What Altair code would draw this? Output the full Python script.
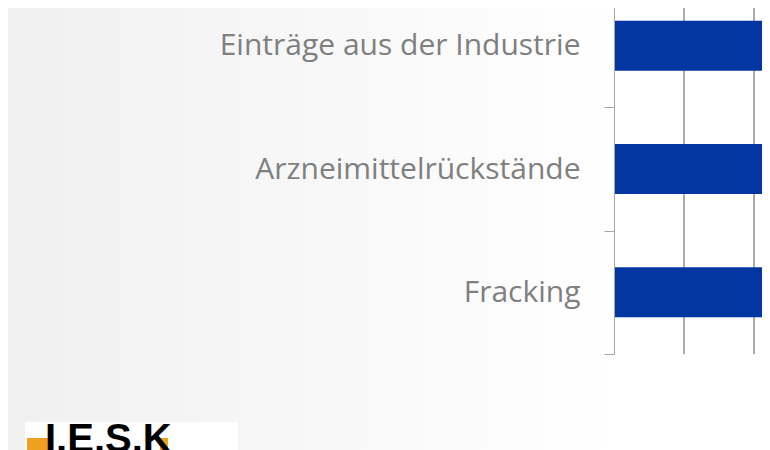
import altair as alt
import pandas as pd

categories = ["Einträge aus der Industrie", "Arzneimittelrückstände", "Fracking"]
values = [38, 34, 30]
grid_values = [10, 20]

df = pd.DataFrame({"cat": categories, "val": values})
grid_df = pd.DataFrame({"g": grid_values})
one = pd.DataFrame({"a": [0]})

xscale = alt.Scale(domain=[0, 148 / 7.0], nice=False, zero=False, clamp=True)
yscale = alt.Scale(range=[-24, 346], paddingInner=0, paddingOuter=0)

bg = alt.Chart(one).mark_rect(
    fill=alt.Gradient(
        gradient="linear",
        stops=[alt.GradientStop(offset=0, color="#f0f0f0"),
               alt.GradientStop(offset=0.8, color="#ffffff"),
               alt.GradientStop(offset=1, color="#ffffff")],
        x1=0, x2=1, y1=0, y2=0),
).encode(x=alt.value(-606), x2=alt.value(148), y=alt.value(0), y2=alt.value(442))

grid = alt.Chart(grid_df).mark_rule(color="#595959", strokeWidth=1).encode(
    x=alt.X("g:Q", scale=xscale, axis=None),
    y=alt.value(-8), y2=alt.value(346),
)

bars = alt.Chart(df).mark_bar(color="#0336a0", size=50).encode(
    y=alt.Y("cat:N", sort=categories, scale=yscale, title=None,
            axis=alt.Axis(tickBand="extent", domainColor="#a6a6a6", tickColor="#a6a6a6",
                          tickSize=10, labelFont="Open Sans", labelFontSize=30,
                          labelColor="#7f7f7f", labelPadding=24, labelLimit=500,
                          zindex=1)),
    x=alt.X("val:Q", scale=xscale, axis=None),
)

logo_box = alt.Chart(one).mark_rect(color="white").encode(
    x=alt.value(-589), x2=alt.value(-376), y=alt.value(414), y2=alt.value(460))
logo_or1 = alt.Chart(one).mark_rect(color="#f0a020").encode(
    x=alt.value(-587), x2=alt.value(-561), y=alt.value(430), y2=alt.value(460))
logo_or2 = alt.Chart(one).mark_rect(color="#f0a020").encode(
    x=alt.value(-454), x2=alt.value(-446), y=alt.value(430), y2=alt.value(460))
logo_txt = alt.Chart(one).mark_text(
    text="I.E.S.K", font="Liberation Sans", fontWeight="bold", fontSize=40,
    color="black", align="left", baseline="alphabetic").encode(
    x=alt.value(-569), y=alt.value(444))

chart = alt.layer(bg, grid, bars, logo_box, logo_or1, logo_or2, logo_txt).properties(
    width=148, height=346,
    padding={"left": 606, "top": 0, "right": 0, "bottom": 96},
    autosize=alt.AutoSizeParams(type="none"),
).configure_view(stroke=None)

chart.save("out.html", embed_options={"renderer": "svg", "actions": False})
